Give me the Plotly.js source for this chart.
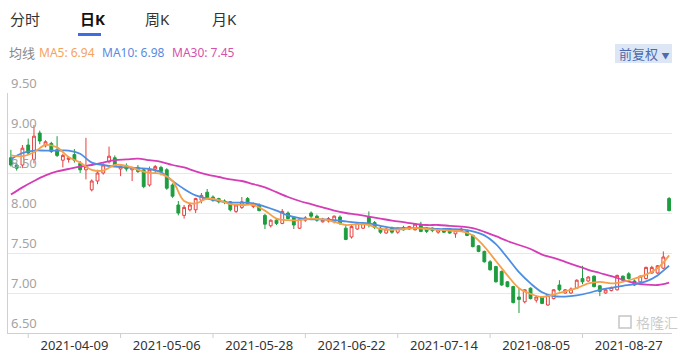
<!DOCTYPE html>
<html>
<head>
<meta charset="utf-8">
<script src="https://cdn.plot.ly/plotly-3.0.1.min.js"></script>
<style>
html,body{margin:0;padding:0;background:#fff;}
#chart{width:689px;height:357px;}
</style>
</head>
<body>
<div id="chart"></div>
<script>
// ---- data ----
const dates = [
'2021-03-24','2021-03-25','2021-03-26','2021-03-29','2021-03-30','2021-03-31',
'2021-04-01','2021-04-02','2021-04-06','2021-04-07','2021-04-08','2021-04-09',
'2021-04-12','2021-04-13','2021-04-14','2021-04-15','2021-04-16',
'2021-04-19','2021-04-20','2021-04-21','2021-04-22','2021-04-23',
'2021-04-26','2021-04-27','2021-04-28','2021-04-29','2021-04-30',
'2021-05-06','2021-05-07',
'2021-05-10','2021-05-11','2021-05-12','2021-05-13','2021-05-14',
'2021-05-17','2021-05-18','2021-05-19','2021-05-20','2021-05-21',
'2021-05-24','2021-05-25','2021-05-26','2021-05-27','2021-05-28',
'2021-05-31','2021-06-01','2021-06-02','2021-06-03','2021-06-04',
'2021-06-07','2021-06-08','2021-06-09','2021-06-10','2021-06-11',
'2021-06-15','2021-06-16','2021-06-17','2021-06-18',
'2021-06-21','2021-06-22','2021-06-23','2021-06-24','2021-06-25',
'2021-06-28','2021-06-29','2021-06-30','2021-07-01','2021-07-02',
'2021-07-05','2021-07-06','2021-07-07','2021-07-08','2021-07-09',
'2021-07-12','2021-07-13','2021-07-14','2021-07-15','2021-07-16',
'2021-07-19','2021-07-20','2021-07-21','2021-07-22','2021-07-23',
'2021-07-26','2021-07-27','2021-07-28','2021-07-29','2021-07-30',
'2021-08-02','2021-08-03','2021-08-04','2021-08-05','2021-08-06',
'2021-08-09','2021-08-10','2021-08-11','2021-08-12','2021-08-13',
'2021-08-16','2021-08-17','2021-08-18','2021-08-19','2021-08-20',
'2021-08-23','2021-08-24','2021-08-25','2021-08-26','2021-08-27',
'2021-08-30','2021-08-31','2021-09-01','2021-09-02','2021-09-03',
'2021-09-06','2021-09-07'
];

const open = [
8.69,8.60,8.60,8.85,8.67,9.00,8.84,8.87,8.79,8.66,
8.67,8.73,8.62,8.54,8.29,8.40,8.50,8.64,8.69,8.55,
8.59,8.54,8.57,8.54,8.35,8.55,8.57,8.54,8.35,8.10,
7.97,8.04,8.04,8.16,8.26,8.20,8.18,8.15,8.14,8.02,
8.07,8.18,8.08,8.10,7.97,7.84,7.91,7.87,8.00,7.95,
7.81,7.91,8.00,7.96,7.89,7.90,7.89,7.95,7.81,7.70,
7.80,7.81,7.95,7.88,7.81,7.75,7.81,7.76,7.82,7.80,
7.79,7.86,7.81,7.81,7.76,7.80,7.80,7.74,7.78,7.77,
7.72,7.59,7.52,7.39,7.33,7.27,7.14,7.08,6.95,6.89,
7.06,6.91,6.95,6.85,6.93,7.10,7.00,7.00,7.06,7.18,
7.15,7.21,7.09,7.00,7.03,7.04,7.21,7.24,7.15,7.14,
7.18,7.25,7.25,7.31,8.18
];
const high = [
8.79,8.63,8.85,8.93,9.10,9.03,8.91,8.89,8.96,8.74,
8.70,8.80,8.65,8.94,8.42,8.54,8.62,8.83,8.72,8.60,
8.62,8.58,8.60,8.56,8.58,8.60,8.59,8.56,8.37,8.15,
8.10,8.12,8.19,8.25,8.30,8.22,8.19,8.17,8.15,8.11,
8.20,8.20,8.13,8.12,7.99,7.92,7.93,8.05,8.02,7.96,
7.93,7.96,8.02,7.98,7.94,7.95,7.97,7.97,7.84,7.85,
7.88,7.88,8.02,7.90,7.83,7.81,7.83,7.82,7.84,7.84,
7.87,7.89,7.82,7.82,7.81,7.81,7.81,7.80,7.82,7.78,
7.73,7.60,7.53,7.41,7.34,7.28,7.15,7.09,7.06,7.05,
7.07,6.96,6.96,6.98,7.05,7.16,7.05,7.07,7.17,7.34,
7.21,7.22,7.10,7.06,7.08,7.23,7.22,7.26,7.17,7.22,
7.33,7.34,7.35,7.52,8.20
];
const low = [
8.58,8.53,8.56,8.73,8.62,8.86,8.82,8.75,8.70,8.57,
8.63,8.63,8.50,8.42,8.27,8.36,8.48,8.62,8.58,8.46,
8.52,8.40,8.50,8.31,8.33,8.50,8.47,8.29,8.19,7.97,
7.93,8.02,8.00,8.12,8.18,8.14,8.12,8.11,8.02,8.00,
8.05,8.10,8.06,8.02,7.80,7.82,7.85,7.86,7.92,7.80,
7.80,7.89,7.93,7.89,7.88,7.88,7.87,7.85,7.66,7.68,
7.79,7.80,7.82,7.80,7.74,7.74,7.74,7.74,7.78,7.79,
7.78,7.76,7.75,7.76,7.74,7.75,7.74,7.69,7.77,7.71,
7.57,7.51,7.38,7.28,7.13,7.09,7.07,6.87,6.75,6.87,
6.92,6.88,6.86,6.84,6.92,7.02,6.99,6.99,7.05,7.11,
7.14,7.07,6.96,6.99,7.02,7.03,7.15,7.17,7.09,7.13,
7.17,7.24,7.24,7.30,8.02
];
const close = [
8.60,8.56,8.81,8.75,8.96,8.90,8.89,8.77,8.72,8.72,
8.69,8.66,8.54,8.58,8.40,8.50,8.60,8.71,8.59,8.58,
8.55,8.57,8.52,8.33,8.54,8.58,8.52,8.31,8.21,8.00,
8.07,8.10,8.18,8.22,8.19,8.16,8.14,8.13,8.04,8.10,
8.14,8.12,8.11,8.03,7.86,7.91,7.87,8.02,7.93,7.85,
7.92,7.94,7.96,7.91,7.92,7.93,7.96,7.87,7.67,7.83,
7.87,7.87,7.86,7.82,7.76,7.80,7.76,7.81,7.79,7.83,
7.86,7.77,7.77,7.78,7.79,7.76,7.75,7.78,7.80,7.72,
7.58,7.52,7.39,7.29,7.14,7.10,7.08,6.88,6.92,7.04,
6.93,6.95,6.87,6.97,7.04,7.04,7.04,7.05,7.16,7.14,
7.20,7.08,7.02,7.04,7.07,7.22,7.16,7.18,7.10,7.21,
7.32,7.32,7.34,7.45,8.03
];

const maSampleIdx = [];
for (let i = 0; i <= 112; i += 2) maSampleIdx.push(i);
maSampleIdx.push(113, 114);
const ma5 = [
8.72,8.71,8.76,8.85,8.82,8.70,8.63,8.54,8.53,8.60,
8.59,8.54,8.50,8.49,8.40,8.15,8.12,8.18,8.16,8.11,
8.10,8.10,8.03,7.93,7.91,7.91,7.93,7.92,7.89,7.85,
7.86,7.85,7.80,7.79,7.80,7.81,7.80,7.79,7.78,7.77,
7.72,7.58,7.40,7.22,7.06,6.99,6.95,6.98,7.02,7.06,
7.12,7.14,7.12,7.14,7.18,7.23,7.31,7.38,7.47
];
const ma10 = [
8.67,8.75,8.78,8.78,8.78,8.78,8.74,8.63,8.60,8.58,
8.57,8.56,8.55,8.51,8.40,8.30,8.22,8.18,8.15,8.13,
8.13,8.12,8.08,8.03,7.97,7.935,7.92,7.92,7.91,7.895,
7.88,7.87,7.84,7.815,7.81,7.81,7.81,7.80,7.80,7.795,
7.77,7.72,7.61,7.44,7.26,7.12,7.01,6.96,6.955,6.97,
7.00,7.04,7.065,7.09,7.11,7.145,7.22,7.28,7.34
];
const ma30 = [
8.23,8.32,8.40,8.47,8.52,8.55,8.58,8.60,8.63,8.66,
8.67,8.68,8.66,8.64,8.60,8.57,8.52,8.48,8.45,8.42,
8.40,8.36,8.32,8.26,8.20,8.15,8.11,8.07,8.03,8.00,
7.98,7.955,7.93,7.905,7.885,7.865,7.85,7.85,7.84,7.83,
7.81,7.765,7.71,7.65,7.60,7.55,7.48,7.44,7.39,7.34,
7.29,7.25,7.21,7.165,7.125,7.105,7.10,7.11,7.13
];

const xTickLabels = ['2021-04-09','2021-05-06','2021-05-28','2021-06-22','2021-07-14','2021-08-05','2021-08-27'];
const yTicks = [6.5, 7.0, 7.5, 8.0, 8.5, 9.0, 9.5];
const tabs = ['分时', '日K', '周K', '月K'];
const maLegend = [['MA5', '6.94'], ['MA10', '6.98'], ['MA30', '7.45']];

// ---- styling ----
const RED = '#e5413f', GREEN = '#1d9d3f';
const C5 = '#f5a14a', C10 = '#4c8ee2', C30 = '#d53db7';
const FONT = 'Noto Sans, Noto Sans CJK SC, sans-serif';

// plot area in pixels: x 8..672, y 93..333
const PL = 8, PR = 672, PT = 93, PB = 333;
const px = x => (x - PL) / (PR - PL);
const py = y => (PB - y) / (PB - PT);

const maX = maSampleIdx.map(i => dates[i]);
function maTrace(y, color) {
  return {type: 'scatter', mode: 'lines', x: maX, y: y,
    line: {color: color, width: 1.8, shape: 'spline', smoothing: 1},
    hoverinfo: 'skip', showlegend: false};
}

const traces = [
  {type: 'candlestick', x: dates, open: open, high: high, low: low, close: close,
   increasing: {line: {color: RED, width: 1}, fillcolor: '#ffffff'},
   decreasing: {line: {color: GREEN, width: 1}, fillcolor: GREEN},
   whiskerwidth: 0, hoverinfo: 'skip', showlegend: false},
  maTrace(ma30, C30),
  maTrace(ma10, C10),
  maTrace(ma5, C5)
];

const annotations = [];
const shapes = [];

// y tick labels sitting above gridlines
yTicks.forEach(v => {
  annotations.push({xref: 'paper', yref: 'y', x: 0, y: v, xanchor: 'left', yanchor: 'bottom',
    xshift: 1, yshift: -1, text: v.toFixed(2), showarrow: false,
    font: {family: FONT, size: 13, color: '#a3a3a3'}});
});

// x tick marks: 8 sessions before each labelled date
xTickLabels.forEach(d => {
  const k = dates.indexOf(d) - 8;
  if (k >= 0) shapes.push({type: 'line', xref: 'x', yref: 'paper', x0: dates[k], x1: dates[k],
    y0: 0, y1: -5 / (PB - PT), line: {color: '#cfcfcf', width: 1}});
});

// tabs
const tabX = [8, 78, 143, 210];
tabs.forEach((t, i) => {
  annotations.push({xref: 'paper', yref: 'paper', x: px(tabX[i]), y: py(19), xanchor: 'left', yanchor: 'middle',
    text: i === 1 ? '<b>' + t + '</b>' : t, showarrow: false,
    font: {family: FONT, size: 15, color: i === 1 ? '#111' : '#333'}});
});
shapes.push({type: 'rect', xref: 'paper', yref: 'paper', x0: px(78), x1: px(101), y0: py(33), y1: py(36),
  fillcolor: '#3d6de0', line: {width: 0}});

// MA legend row
annotations.push({xref: 'paper', yref: 'paper', x: px(7), y: py(53), xanchor: 'left', yanchor: 'middle',
  text: '均线', showarrow: false, font: {family: FONT, size: 13, color: '#888'}});
const legX = [37, 100, 170];
const legC = ['#f5a35c', '#5a8ae0', '#d552ab'];
maLegend.forEach((m, i) => {
  annotations.push({xref: 'paper', yref: 'paper', x: px(legX[i]), y: py(53), xanchor: 'left', yanchor: 'middle',
    text: m[0] + ': ' + m[1], showarrow: false, font: {family: FONT, size: 12, color: legC[i]}});
});

// 前复权 button
shapes.push({type: 'rect', xref: 'paper', yref: 'paper', x0: px(615), x1: px(672), y0: py(63), y1: py(44),
  fillcolor: '#dde6f5', line: {width: 0}});
annotations.push({xref: 'paper', yref: 'paper', x: px(643.5), y: py(53.5), xanchor: 'center', yanchor: 'middle',
  text: '前复权 <span style="font-size:8px">▼</span>', showarrow: false,
  font: {family: FONT, size: 13, color: '#4a6bb0'}});

// watermark (kept just above the last date label)
shapes.push({type: 'rect', xref: 'paper', yref: 'paper', x0: px(619), x1: px(631), y0: py(328), y1: py(316),
  fillcolor: 'rgba(0,0,0,0)', line: {color: 'rgba(150,150,150,0.55)', width: 1.5}});
annotations.push({xref: 'paper', yref: 'paper', x: px(657), y: py(322), xanchor: 'center', yanchor: 'middle',
  text: '格隆汇', showarrow: false, font: {family: FONT, size: 14, color: 'rgba(150,150,150,0.5)'}});

const layout = {
  width: 689, height: 357,
  margin: {l: PL, r: 689 - PR, t: PT, b: 357 - PB, pad: 0},
  paper_bgcolor: '#fff', plot_bgcolor: '#fff',
  showlegend: false,
  xaxis: {type: 'category', range: [-0.5, dates.length - 0.5], tickmode: 'array',
    tickvals: xTickLabels, ticktext: xTickLabels, ticks: '', showgrid: false,
    showline: true, linecolor: '#d0d0d0', linewidth: 1,
    tickfont: {family: FONT, size: 13, color: '#333'},
    rangeslider: {visible: false}, fixedrange: true},
  yaxis: {range: [6.5, 9.5], tickmode: 'array', tickvals: yTicks, showticklabels: false,
    showgrid: true, gridcolor: '#e8e8e8', gridwidth: 1, zeroline: false,
    showline: true, linecolor: '#d0d0d0', linewidth: 1, ticks: '', fixedrange: true},
  annotations: annotations,
  shapes: shapes
};

Plotly.newPlot('chart', traces, layout, {staticPlot: true, displayModeBar: false});
</script>
</body>
</html>
